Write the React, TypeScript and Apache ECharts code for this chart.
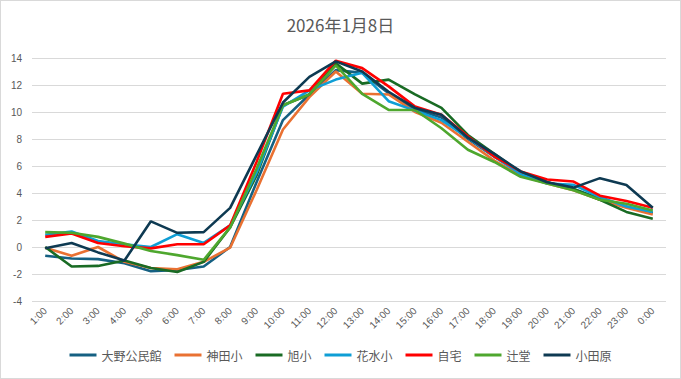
import React, { useEffect, useRef } from "react";
import * as echarts from "echarts";

const hours = ["1:00","2:00","3:00","4:00","5:00","6:00","7:00","8:00","9:00","10:00","11:00","12:00","13:00","14:00","15:00","16:00","17:00","18:00","19:00","20:00","21:00","22:00","23:00","0:00"];

const seriesNames = ["大野公民館", "神田小", "旭小", "花水小", "自宅", "辻堂", "小田原"];

const oono = [-0.65, -0.85, -0.9, -1.2, -1.8, -1.7, -1.45, 0.0, 4.8, 9.4, 11.3, 13.1, 12.9, 11.4, 10.2, 9.6, 8.0, 6.7, 5.5, 4.8, 4.3, 3.6, 3.0, 2.5];
const kanda = [-0.05, -0.65, 0.0, -1.1, -1.55, -1.65, -1.1, -0.05, 4.2, 8.7, 11.1, 13.0, 11.35, 11.3, 10.0, 9.2, 7.8, 6.4, 5.3, 4.7, 4.2, 3.5, 2.9, 2.4];
const asahi = [0.0, -1.45, -1.4, -1.0, -1.55, -1.85, -1.1, 1.45, 5.3, 10.5, 11.3, 13.6, 12.1, 12.4, 11.3, 10.3, 8.3, 6.9, 5.5, 4.8, 4.3, 3.5, 2.6, 2.1];
const hanamizu = [0.9, 1.15, 0.45, 0.2, 0.0, 0.95, 0.3, 1.6, 5.5, 10.4, 11.6, 12.4, 12.9, 10.8, 10.1, 9.4, 8.1, 6.7, 5.4, 4.7, 4.6, 3.7, 3.0, 2.6];
const jitaku = [0.75, 1.0, 0.3, 0.05, -0.1, 0.2, 0.2, 1.6, 6.3, 11.35, 11.6, 13.8, 13.25, 11.9, 10.4, 9.8, 8.2, 6.7, 5.6, 5.0, 4.85, 3.8, 3.4, 2.9];
const tsujido = [1.1, 1.05, 0.75, 0.25, -0.3, -0.6, -0.95, 1.45, 5.8, 10.5, 11.3, 13.45, 11.35, 10.15, 10.15, 8.8, 7.2, 6.3, 5.2, 4.7, 4.2, 3.5, 3.2, 2.7];
const odawara = [-0.1, 0.3, -0.4, -1.0, 1.9, 1.05, 1.1, 2.9, 6.8, 10.7, 12.6, 13.75, 13.0, 11.5, 10.3, 9.8, 8.1, 6.9, 5.6, 4.8, 4.4, 5.1, 4.6, 2.9];

const seriesData = [oono, kanda, asahi, hanamizu, jitaku, tsujido, odawara];
const colors = ["#156082", "#E97132", "#196B24", "#0F9ED5", "#FF0000", "#4EA72E", "#0E3A52"];

const titleText = "2026年1月8日";

export default function App() {
  const ref = useRef<HTMLDivElement>(null);
  useEffect(() => {
    if (!ref.current) return;
    const chart = echarts.init(ref.current, null, { renderer: "svg" });
    const font = "'Noto Sans CJK JP', 'Liberation Sans', sans-serif";
    chart.setOption({
      animation: false,
      backgroundColor: "#ffffff",
      title: {
        text: titleText,
        left: "center",
        top: 10,
        textStyle: { color: "#595959", fontSize: 17, fontWeight: "normal", fontFamily: font },
      },
      legend: {
        bottom: 12,
        left: "center",
        itemWidth: 27,
        itemHeight: 3,
        itemGap: 13,
        icon: "rect",
        textStyle: { color: "#595959", fontSize: 12, fontFamily: font },
        data: seriesNames,
      },
      grid: { left: 31, right: 14, top: 57, bottom: 77 },
      xAxis: {
        type: "category",
        data: hours,
        boundaryGap: true,
        axisLine: { show: false },
        axisTick: { show: false },
        axisLabel: { rotate: 45, color: "#595959", fontSize: 10, margin: 8, fontFamily: "'Liberation Sans', sans-serif" },
        splitLine: { show: false },
      },
      yAxis: {
        type: "value",
        min: -4,
        max: 14,
        interval: 2,
        axisLine: { show: false },
        axisTick: { show: false },
        axisLabel: { color: "#595959", fontSize: 10, margin: 10, fontFamily: "'Liberation Sans', sans-serif" },
        splitLine: { lineStyle: { color: "#d9d9d9", width: 1 } },
      },
      series: seriesNames.map((name, i) => ({
        name,
        type: "line",
        data: seriesData[i],
        symbol: "none",
        color: colors[i],
        lineStyle: { color: colors[i], width: 2.6 },
      })),
    });
    return () => chart.dispose();
  }, []);
  return (
    <div
      style={{
        position: "fixed",
        left: 0,
        top: 0,
        width: 681,
        height: 379,
        boxSizing: "border-box",
        border: "1px solid #d9d9d9",
        background: "#fff",
      }}
    >
      <div ref={ref} style={{ width: 679, height: 377 }} />
    </div>
  );
}
